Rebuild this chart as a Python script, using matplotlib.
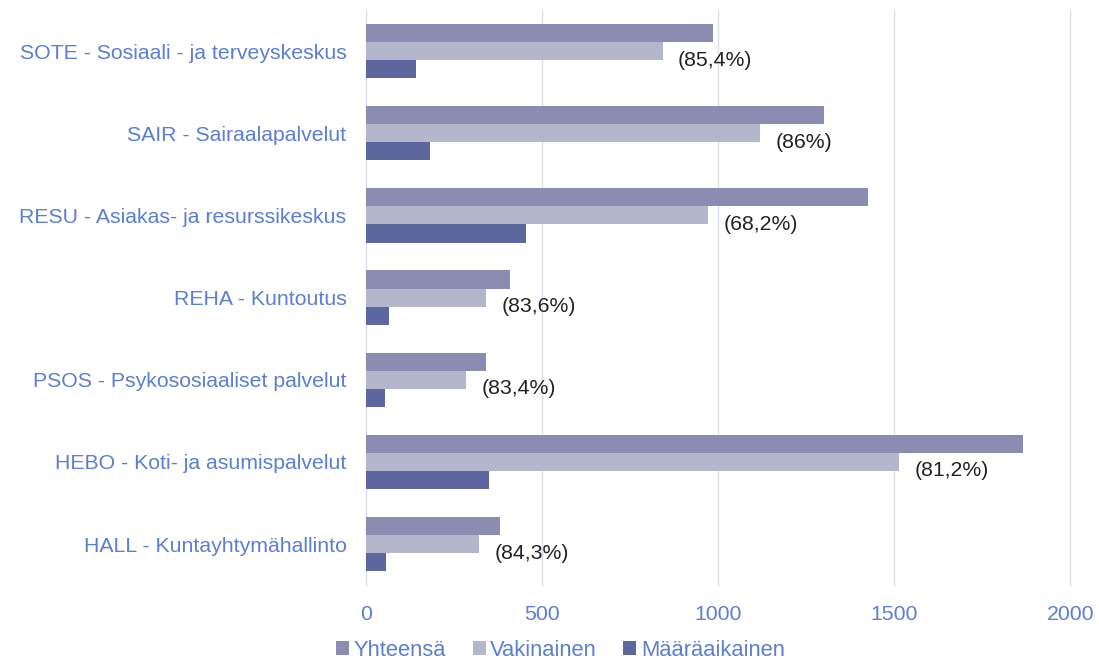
import numpy as np
import matplotlib.pyplot as plt

plt.rcParams['font.family'] = ['Liberation Sans', 'DejaVu Sans']

categories = ['SOTE - Sosiaali - ja terveyskeskus', 'SAIR - Sairaalapalvelut',
              'RESU - Asiakas- ja resurssikeskus', 'REHA - Kuntoutus',
              'PSOS - Psykososiaaliset palvelut', 'HEBO - Koti- ja asumispalvelut',
              'HALL - Kuntayhtymähallinto']
yhteensa = [986, 1301, 1426, 408, 341, 1864, 381]
vakinainen = [842, 1119, 972, 341, 284, 1514, 321]
maaraaikainen = [142, 182, 455, 65, 54, 349, 57]
osuus = ['(85,4%)', '(86%)', '(68,2%)', '(83,6%)', '(83,4%)', '(81,2%)', '(84,3%)']

c_yht = '#8a8db1'
c_vak = '#b4b6cb'
c_maa = '#5e66a0'
c_txt = '#5b7fd1'
fs = 15.3

fig = plt.figure(figsize=(10.99, 6.62), dpi=100)
ax = fig.add_axes([0.333, 0.116, 0.641, 0.869])

y = np.arange(len(categories))
h = 0.22
ax.barh(y - h, yhteensa, height=h, color=c_yht, label='Yhteensä', zorder=3)
ax.barh(y, vakinainen, height=h, color=c_vak, label='Vakinainen', zorder=3)
ax.barh(y + h, maaraaikainen, height=h, color=c_maa, label='Määräaikainen', zorder=3)

for yi, v, t in zip(y, vakinainen, osuus):
    ax.annotate(t, (v, yi + h / 2), xytext=(11, 0), textcoords='offset points',
                va='center', ha='left', fontsize=fs, color='#222222')

ax.set_xlim(0, 2000)
ax.set_ylim(len(categories) - 0.5, -0.5)
ax.set_yticks(y)
ax.set_yticklabels(categories, fontsize=fs, color=c_txt)
ax.set_xticks([0, 500, 1000, 1500, 2000])
ax.tick_params(axis='x', labelsize=fs, labelcolor=c_txt, length=0, pad=14)
ax.tick_params(axis='y', length=0, pad=14)
ax.xaxis.grid(True, color='#dcdfea', linewidth=1, zorder=0)
for g in ax.get_xgridlines():
    g.set_clip_on(False)
for s in ax.spines.values():
    s.set_visible(False)

fig.legend(loc='center', bbox_to_anchor=(0.51, 0.018), ncol=3, frameon=False,
           fontsize=15.8, handlelength=0.6, handleheight=0.6, handletextpad=0.2,
           columnspacing=1.2, labelcolor=c_txt, borderpad=0)

fig.savefig('out.png', dpi=100)
